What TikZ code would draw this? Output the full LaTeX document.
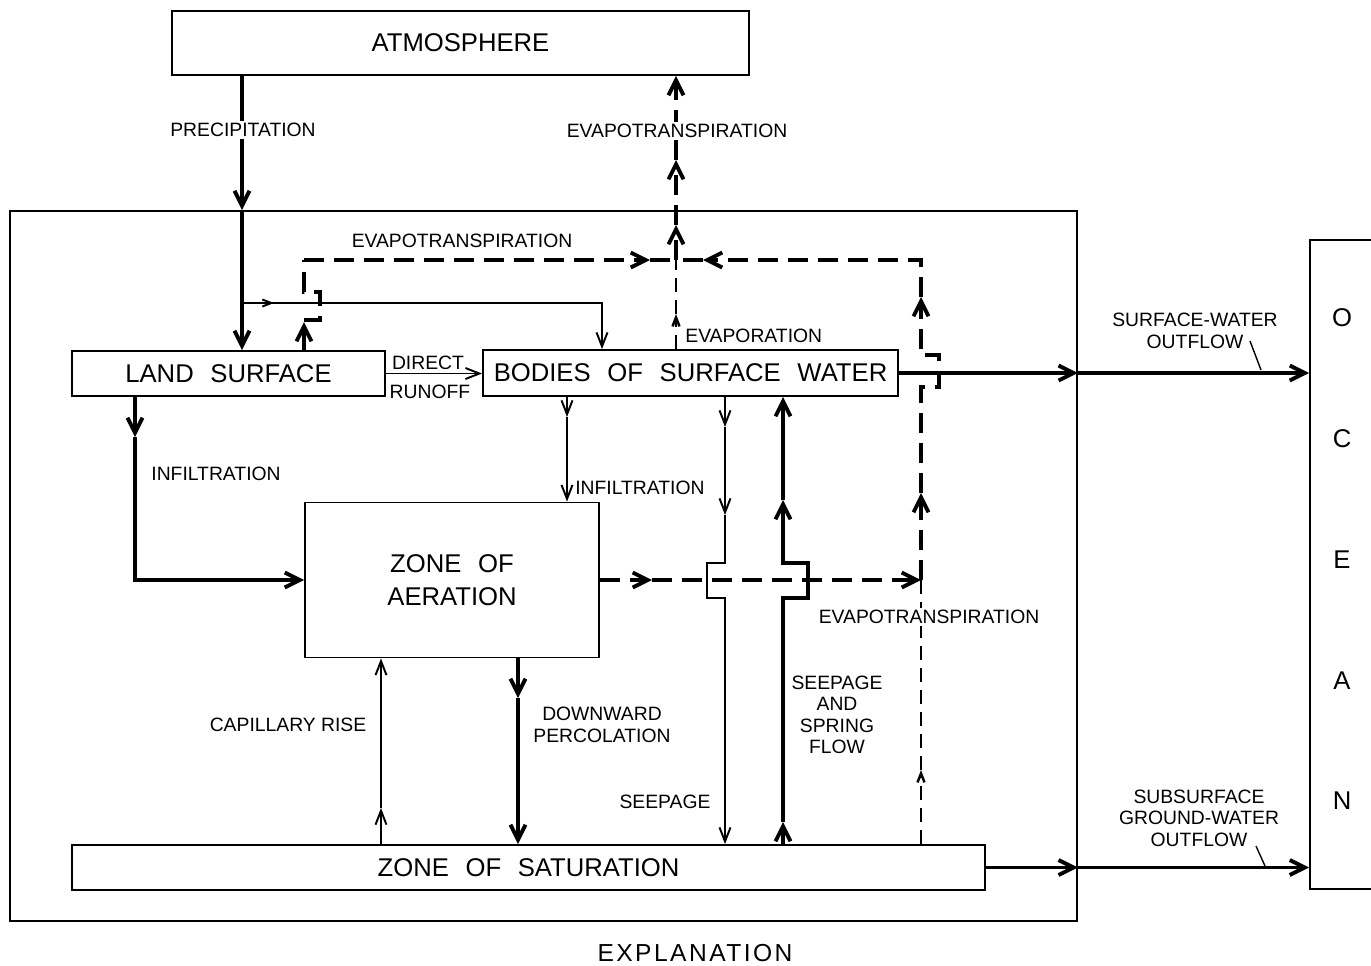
\documentclass[tikz,border=0pt]{standalone}
\usepackage{fontspec}
\setmainfont{Liberation Sans}
\usetikzlibrary{arrows.meta}

\newcommand{\wsp}{\hspace{0.65em}}

\tikzset{
  box/.style={draw, line width=1.1pt, inner sep=0pt, align=center,
    font=\fontsize{14.6}{18.5}\selectfont},
  lbl/.style={inner sep=0pt, align=center, font=\fontsize{11}{12.2}\selectfont},
  cover/.style={lbl, fill=white, inner sep=1.5pt},
  flow/.style={line width=1.1pt},
  bigflow/.style={line width=2.2pt},
  evap/.style={line width=2.2pt, dash pattern=on 0.4cm off 0.2cm},
  thinevap/.style={line width=1.4pt, dash pattern=on 0.28cm off 0.16cm},
  tipL/.style={-{Straight Barb[length=0.3cm,width=0.3cm]}},
  tipM/.style={-{Straight Barb[length=0.28cm,width=0.22cm]}},
  tipS/.style={-{Straight Barb[length=0.18cm,width=0.14cm]}},
}

\begin{document}
\begin{tikzpicture}[x=0.02cm, y=-0.02cm]
\useasboundingbox (0,0) rectangle (1371,965);

% boxes
\node[box, minimum width=11.54cm, minimum height=1.28cm] (atm) at (460.5,43) {ATMOSPHERE};
\node[box, minimum width=21.34cm, minimum height=14.2cm] (basin) at (543.5,566) {};
\node[box, minimum width=2cm, minimum height=12.98cm] (ocean) at (1360,564.5) {};
\node[box, minimum width=6.26cm, minimum height=0.9cm] (land) at (228.5,373.5) {LAND\wsp SURFACE};
\node[box, minimum width=8.3cm, minimum height=0.92cm] (bodies) at (690.5,373) {BODIES\wsp OF\wsp SURFACE\wsp WATER};
\node[box, minimum width=5.88cm, minimum height=3.1cm] (aer) at (452,580) {ZONE\wsp OF\\AERATION};
\node[box, minimum width=18.26cm, minimum height=0.9cm] (sat) at (528.5,867.5) {ZONE\wsp OF\wsp SATURATION};

% columns
\coordinate (cI) at (135,0);
\coordinate (cP) at (242,0);
\coordinate (cL) at (304,0);
\coordinate (cC) at (381,0);
\coordinate (cD) at (518,0);
\coordinate (cF) at (567,0);
\coordinate (cS) at (725,0);
\coordinate (cG) at (783,0);
\coordinate (e0) at (676,260);
\coordinate (e2) at (921,580);

% precipitation
\draw[bigflow, tipL] (atm.south -| cP) -- (basin.north -| cP);
\draw[bigflow, tipL] (basin.north -| cP) -- (land.north -| cP);
\coordinate (r0) at (242,303);
\coordinate (r1) at (602,303);
\draw[flow, tipS] (r0) -- ++(32,0);
\draw[flow, tipM] (r0) -- (r1) -- (r1 |- bodies.north);

% evapotranspiration, upper loop
\draw[evap, tipL] (land.north -| cL) -- (304,322);
\draw[evap] (304,320) -| (320,292) -| (e0 -| cL);
\draw[evap, tipL] (e0 -| cL) -- (650,260);
\draw[evap] (650,260) -- (e0);
\draw[evap, tipL] (e2) -- (921,493);
\draw[evap, tipL] (921,493) -- (921,387) -| (939,355) -| (921,297);
\draw[evap, tipL] (921,297) |- (703,260);
\draw[evap] (703,260) -- (e0);
\draw[thinevap, tipS] (bodies.north -| e0) -- (676,314);
\draw[thinevap] (676,314) -- (e0);
\draw[evap, tipL] (e0) -- (676,225);
\draw[evap, tipL] (676,225) -- (676,160);
\draw[evap, tipL] (676,160) -- (atm.south -| e0);

% runoff and infiltration
\draw[flow, tipM] (land.east) -- (land.east -| bodies.west);
\draw[bigflow, tipL] (land.south -| cI) -- (135,437);
\draw[bigflow, tipL] (135,437) -- (aer.west -| cI) -- (aer.west);
\draw[flow, tipM] (bodies.south -| cF) -- (567,417);
\draw[flow, tipM] (567,417) -- (aer.north -| cF);

% seepage
\draw[flow, tipM] (bodies.south -| cS) -- (725,427);
\draw[flow, tipM] (725,427) -- (725,515);
\draw[flow, tipM] (725,515) -- (725,563) -| (707,598) -| (sat.north -| cS);
\draw[bigflow, tipL] (sat.north -| cG) -- (783,822);
\draw[bigflow, tipL] (783,822) -- (783,598) -| (808,563) -| (783,500);
\draw[bigflow, tipL] (783,500) -- (bodies.south -| cG);

% zone of aeration and saturation
\draw[evap, tipL] (aer.east) -- (652,580);
\draw[evap, tipL] (652,580) -- (e2);
\draw[thinevap, tipS] (sat.north -| e2) -- (921,770);
\draw[thinevap] (921,770) -- (e2);
\draw[flow, tipM] (sat.north -| cC) -- (381,808);
\draw[flow, tipM] (381,808) -- (aer.south -| cC);
\draw[bigflow, tipL] (aer.south -| cD) -- (518,698);
\draw[bigflow, tipL] (518,698) -- (sat.north -| cD);

% outflow to ocean
\draw[bigflow, tipL] (bodies.east) -- (bodies.east -| basin.east);
\draw[bigflow, tipL] (bodies.east -| basin.east) -- (bodies.east -| ocean.west);
\draw[bigflow, tipL] (sat.east) -- (sat.east -| basin.east);
\draw[bigflow, tipL] (sat.east -| basin.east) -- (sat.east -| ocean.west);

% labels
\node[cover] (lprec) at (243,130) {PRECIPITATION};
\node[cover] (letop) at (677,131) {EVAPOTRANSPIRATION};
\node[lbl] (leland) at (462,241) {EVAPOTRANSPIRATION};
\node[lbl, anchor=west] (levap) at (685,336) {EVAPORATION};
\node[lbl] (ldir) at (428,363) {DIRECT};
\node[lbl] (lrun) at (430,392) {RUNOFF};
\node[lbl] (linf1) at (216,474) {INFILTRATION};
\node[lbl, anchor=west] (linf2) at (575,488) {INFILTRATION};
\node[cover] (lesat) at (929,617) {EVAPOTRANSPIRATION};
\node[lbl] (lspr) at (837,715) {SEEPAGE\\AND\\SPRING\\FLOW};
\node[lbl] (lseep) at (665,802) {SEEPAGE};
\node[lbl] (lcap) at (288,725) {CAPILLARY RISE};
\node[lbl] (lperc) at (602,725) {DOWNWARD\\PERCOLATION};
\node[lbl] (lsw) at (1195,331) {SURFACE-WATER\\OUTFLOW};
\node[lbl] (lgw) at (1199,818) {SUBSURFACE\\GROUND-WATER\\OUTFLOW};
\draw[line width=0.8pt] (1250,341) -- (1261,370);
\draw[line width=0.8pt] (1256,846) -- (1265,866);

\foreach \ch [count=\i from 0] in {O,C,E,A,N}
  \node[box, draw=none] (oc\i) at (1342,318+120.75*\i) {\ch};

\node[font=\fontsize{14}{16}\selectfont\addfontfeature{LetterSpace=10}] (expl) at (695,953) {EXPLANATION};
\end{tikzpicture}
\end{document}
